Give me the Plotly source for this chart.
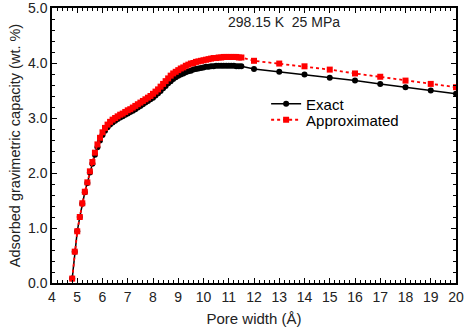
import plotly.graph_objects as go

pore_width = [4.8, 4.9, 5.0, 5.1, 5.2, 5.3, 5.4, 5.5, 5.6, 5.7, 5.8, 5.9,
              6.0, 6.1, 6.2, 6.3, 6.4, 6.5, 6.6, 6.7, 6.8, 6.9,
              7.0, 7.1, 7.2, 7.3, 7.4, 7.5, 7.6, 7.7, 7.8, 7.9,
              8.0, 8.1, 8.2, 8.3, 8.4, 8.5, 8.6, 8.7, 8.8, 8.9,
              9.0, 9.1, 9.2, 9.3, 9.4, 9.5, 9.6, 9.7, 9.8, 9.9,
              10.0, 10.1, 10.2, 10.3, 10.4, 10.5, 10.6, 10.7, 10.8, 10.9,
              11.0, 11.1, 11.2, 11.3, 11.4, 11.5,
              12, 13, 14, 15, 16, 17, 18, 19, 20]

exact = [0.08, 0.57, 0.94, 1.20, 1.44, 1.65, 1.82, 2.01, 2.17, 2.33, 2.47, 2.59,
         2.69, 2.77, 2.83, 2.88, 2.92, 2.95, 2.98, 3.01, 3.03, 3.06,
         3.08, 3.11, 3.13, 3.16, 3.19, 3.22, 3.25, 3.28, 3.31, 3.34,
         3.37, 3.41, 3.45, 3.49, 3.54, 3.58, 3.63, 3.67, 3.71, 3.74,
         3.77, 3.79, 3.81, 3.83, 3.85, 3.86, 3.88, 3.89, 3.90, 3.91,
         3.92, 3.93, 3.93, 3.94, 3.94, 3.95, 3.95, 3.95, 3.95, 3.95,
         3.95, 3.95, 3.95, 3.94, 3.94, 3.94,
         3.89, 3.84, 3.79, 3.73, 3.68, 3.62, 3.56, 3.50, 3.44]

approximated = [0.08, 0.57, 0.94, 1.20, 1.45, 1.66, 1.83, 2.03, 2.20, 2.37, 2.52, 2.64,
                2.74, 2.82, 2.88, 2.93, 2.97, 3.00, 3.03, 3.06, 3.08, 3.11,
                3.14, 3.16, 3.19, 3.22, 3.25, 3.28, 3.31, 3.34, 3.37, 3.40,
                3.44, 3.48, 3.52, 3.57, 3.62, 3.67, 3.72, 3.77, 3.81, 3.84,
                3.87, 3.90, 3.92, 3.95, 3.97, 3.99, 4.00, 4.02, 4.03, 4.04,
                4.05, 4.06, 4.07, 4.08, 4.09, 4.09, 4.10, 4.10, 4.11, 4.11,
                4.11, 4.11, 4.11, 4.11, 4.10, 4.10,
                4.04, 3.99, 3.94, 3.88, 3.81, 3.75, 3.68, 3.62, 3.56]

x_ticks = list(range(4, 21))
y_ticks = [0.0, 1.0, 2.0, 3.0, 4.0, 5.0]
x_range = [4, 20]
y_range = [0, 5]

font_family = "Liberation Sans, Arial, sans-serif"
text_color = "#222222"

fig = go.Figure()
fig.add_trace(go.Scatter(
    x=pore_width, y=exact, name="Exact", mode="lines+markers",
    line=dict(color="black", width=1.5),
    marker=dict(symbol="circle", size=6, color="black"),
    legend="legend",
))
fig.add_trace(go.Scatter(
    x=pore_width, y=approximated, name="Approximated", mode="lines+markers",
    line=dict(color="red", width=1.8, dash="dot"),
    marker=dict(symbol="square", size=6, color="red"),
    legend="legend2",
))
# invisible helper so that the mirrored top/right axes (with minor ticks) are drawn
fig.add_trace(go.Scatter(
    x=[x_range[0]], y=[y_range[0]], xaxis="x2", yaxis="y2", mode="markers",
    marker=dict(opacity=0), showlegend=False, hoverinfo="skip",
))

minor_x = dict(dtick=0.2, ticks="inside", ticklen=3, tickwidth=1, tickcolor="black", showgrid=False)
minor_y = dict(dtick=0.2, ticks="inside", ticklen=3, tickwidth=1, tickcolor="black", showgrid=False)

axis_common = dict(
    showline=True, linecolor="black", linewidth=1.5, mirror=False,
    ticks="inside", ticklen=5, tickwidth=1.2, tickcolor="black",
    showgrid=False, zeroline=False, automargin=False, ticklabeloverflow="allow",
    tickfont=dict(family=font_family, size=14, color=text_color),
)
mirror_common = dict(
    showticklabels=False, showline=True, linecolor="black", linewidth=1.5,
    ticks="inside", ticklen=5, tickwidth=1.2, tickcolor="black",
    showgrid=False, zeroline=False, automargin=False,
)

fig.update_layout(
    xaxis=dict(
        range=x_range, tickvals=x_ticks, minor=minor_x,
        title=dict(text="Pore width (Å)", font=dict(family=font_family, size=15, color=text_color), standoff=10),
        **axis_common,
    ),
    yaxis=dict(
        range=y_range, tickvals=y_ticks, tickformat=".1f", minor=minor_y,
        title=dict(text="Adsorbed gravimetric capacity (wt. %)", font=dict(family=font_family, size=14.5, color=text_color), standoff=4),
        **axis_common,
    ),
    xaxis2=dict(range=x_range, tickvals=x_ticks, minor=minor_x, overlaying="x", side="top", anchor="y2", **mirror_common),
    yaxis2=dict(range=y_range, tickvals=y_ticks, minor=minor_y, overlaying="y", side="right", anchor="x2", **mirror_common),
)

fig.add_annotation(
    x=0.575, y=0.985, xref="paper", yref="paper", xanchor="center", yanchor="top",
    text="298.15 K  25 MPa", showarrow=False,
    font=dict(family=font_family, size=14, color=text_color),
)

legend_style = dict(
    xanchor="left", yanchor="middle",
    bgcolor="rgba(0,0,0,0)", borderwidth=0,
    font=dict(family=font_family, size=15, color="black"),
    itemwidth=30,
)

fig.update_layout(
    width=465, height=332,
    margin=dict(l=52, r=9, t=8, b=49),
    plot_bgcolor="white", paper_bgcolor="white",
    showlegend=True,
    legend=dict(x=0.53, y=(283 - 104) / 275, **legend_style),
    legend2=dict(x=0.53, y=(283 - 120) / 275, **legend_style),
)

fig.write_html("out.html")
